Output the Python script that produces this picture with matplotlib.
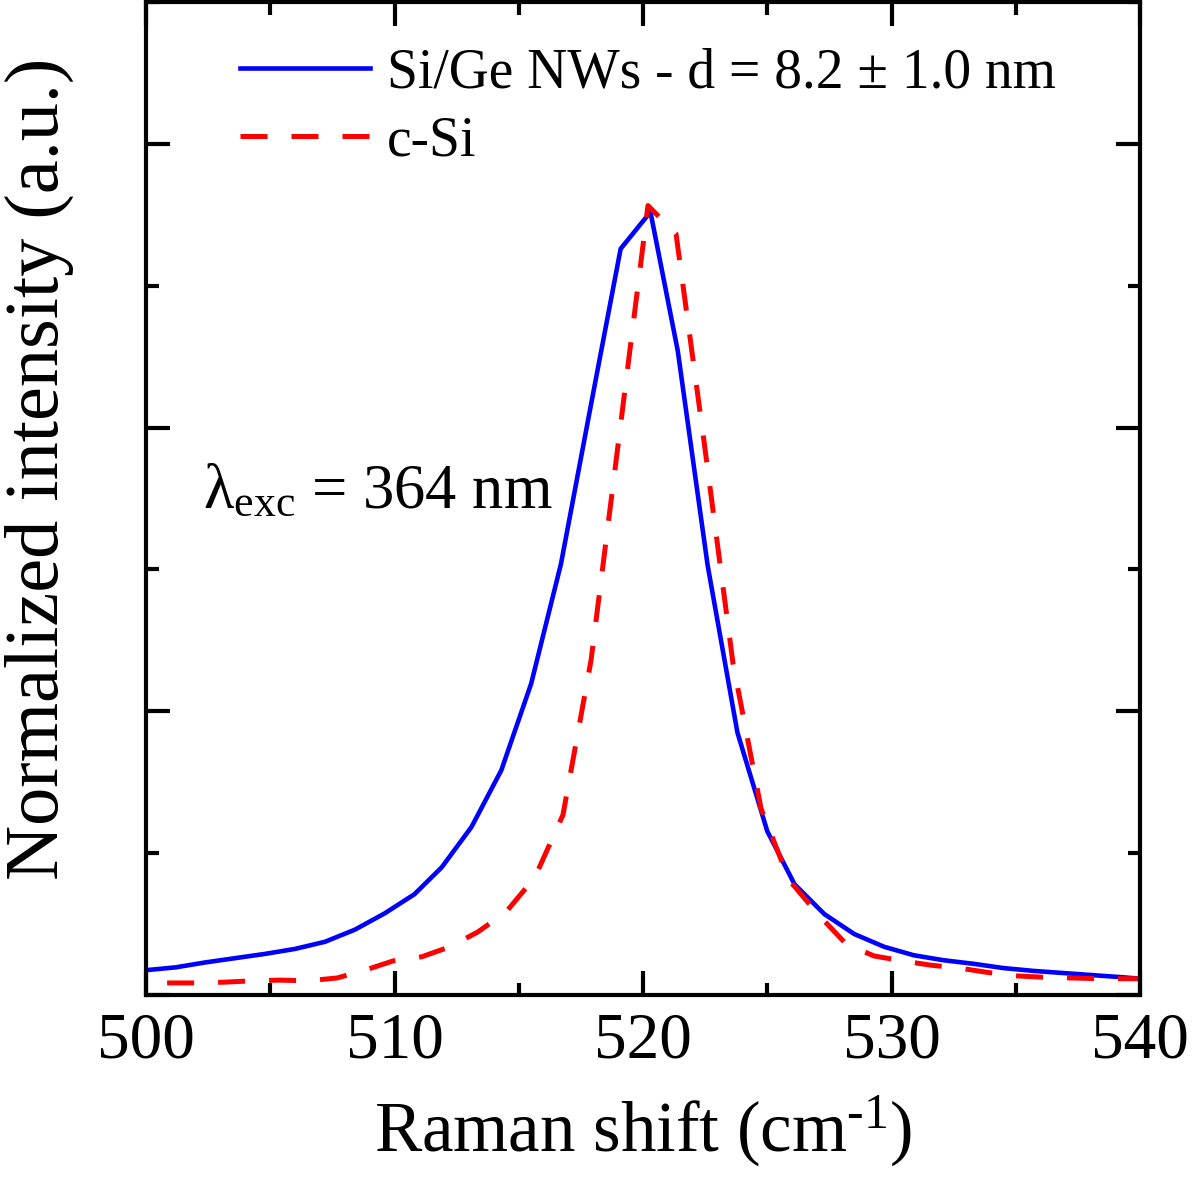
import matplotlib
matplotlib.use("Agg")
import matplotlib.pyplot as plt
from matplotlib.ticker import MultipleLocator

# ---- data ----
nw_shift = [500.0, 501.2, 502.4, 503.6, 504.8, 506.0, 507.2, 508.4, 509.6, 510.8,
            511.9, 513.1, 514.3, 515.5, 516.7, 517.9, 519.1, 520.3, 521.4, 522.6,
            523.8, 525.0, 526.1, 527.3, 528.5, 529.7, 530.9, 532.1, 533.3, 534.5,
            535.7, 536.9, 538.1, 539.3, 540.0]
nw_int = [0.035, 0.039, 0.046, 0.052, 0.058, 0.065, 0.075, 0.092, 0.115, 0.142,
          0.180, 0.237, 0.317, 0.439, 0.608, 0.831, 1.052, 1.104, 0.908, 0.606,
          0.370, 0.231, 0.156, 0.114, 0.086, 0.068, 0.056, 0.049, 0.044, 0.038,
          0.034, 0.031, 0.028, 0.025, 0.023]

csi_shift = [500.85, 501.97, 503.10, 504.27, 505.39, 506.52, 507.69, 508.81, 509.94, 511.11,
             512.23, 513.36, 514.49, 515.65, 516.78, 517.91, 519.07, 520.20, 521.33, 522.45,
             523.62, 524.75, 525.88, 527.04, 528.17, 529.30, 530.46, 531.59, 532.72, 533.84,
             535.01, 536.14, 537.26, 538.39, 539.56, 540.0]
csi_int = [0.017, 0.017, 0.018, 0.020, 0.021, 0.020, 0.024, 0.035, 0.048, 0.054,
           0.068, 0.089, 0.117, 0.166, 0.254, 0.472, 0.796, 1.113, 1.073, 0.782,
           0.468, 0.263, 0.162, 0.114, 0.072, 0.055, 0.048, 0.042, 0.038, 0.032,
           0.027, 0.025, 0.024, 0.023, 0.023, 0.023]

labels = ["Si/Ge NWs - d = 8.2 \u00b1 1.0 nm", "c-Si"]
x_ticks = [500, 510, 520, 530, 540]

plt.rcParams['font.family'] = ['Liberation Serif', 'DejaVu Serif']
plt.rcParams['mathtext.fontset'] = 'custom'
plt.rcParams['mathtext.rm'] = 'Liberation Serif'
plt.rcParams['mathtext.it'] = 'Liberation Serif:italic'

fig = plt.figure(figsize=(12, 11.92), dpi=100)
ax = fig.add_axes([146/1200, 1 - 995/1192, (1140-146)/1200, (995-2)/1192])

ax.plot(nw_shift, nw_int, color='#0000ff', lw=3.3, label=labels[0], solid_joinstyle='miter')
ax.plot(csi_shift, csi_int, color='#ff0000', lw=3.6, linestyle=(0, (5.4, 4.8)), label=labels[1])

ax.set_xlim(500, 540)
ax.set_ylim(0, 1.4)
ax.set_xticks(x_ticks)
ax.xaxis.set_minor_locator(MultipleLocator(5))
ax.yaxis.set_major_locator(MultipleLocator(0.4))
ax.yaxis.set_minor_locator(MultipleLocator(0.2))
ax.set_yticklabels([])
ax.tick_params(which='both', direction='in', top=True, right=True, width=3)
ax.tick_params(which='major', length=17, labelsize=47, pad=12)
ax.tick_params(which='minor', length=9)
for s in ax.spines.values():
    s.set_linewidth(3)

ax.set_xlabel(r'Raman shift (cm$^{\mathrm{\text{-1}}}$)', fontsize=51, labelpad=16)
ax.set_ylabel('Normalized intensity (a.u.)', fontsize=55)
ax.yaxis.set_label_coords(-0.072, 0.53)

ax.text(0.057, 0.49, '\u03bb$_{\\mathrm{exc}}$ = 364 nm', transform=ax.transAxes,
        fontsize=45, va='baseline', ha='left')

leg = ax.legend(loc='upper left', bbox_to_anchor=(0.044, 1.005), frameon=False,
                fontsize=40, handlelength=2.35, handletextpad=0.3, labelspacing=0.3)

fig.savefig('out.png', dpi=100)
